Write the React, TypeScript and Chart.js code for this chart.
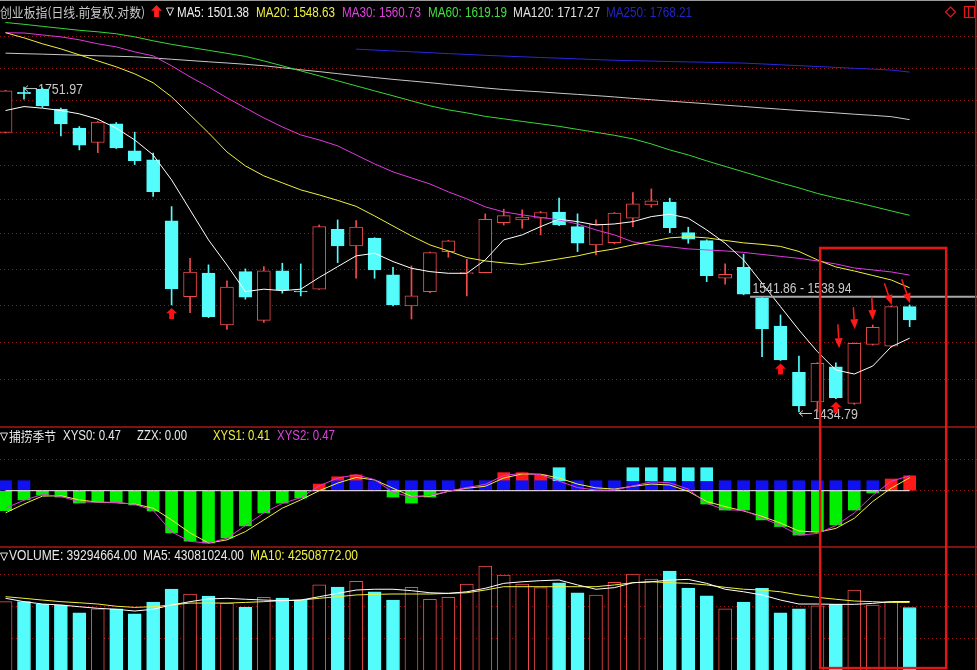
import React, { useEffect, useRef } from 'react';
import { Chart, registerables } from 'chart.js';

Chart.register(...registerables);

// ---------------- data ----------------
const TITLE = '创业板指(日线.前复权.对数)';
const IND_NAME = '捕捞季节';

const opens = [1703.7, 1746.2, 1749.8, 1728.4, 1708.3, 1693.3, 1712.8, 1684.6, 1675.3, 1613.6, 1540.2, 1562.6, 1513.6, 1564.1, 1517.9, 1564.8, 1545.6, 1547.3, 1605.4, 1589.0, 1596.6, 1560.9, 1531.5, 1545.0, 1583.5, 1562.2, 1563.2, 1611.9, 1614.6, 1616.3, 1622.4, 1608.0, 1589.9, 1592.2, 1616.3, 1629.6, 1632.3, 1602.0, 1594.2, 1557.7, 1568.3, 1538.7, 1512.7, 1470.2, 1443.7, 1475.3, 1442.4, 1495.6, 1494.1, 1530.8];
const highs = [1748.5, 1751.97, 1751.0, 1729.4, 1710.0, 1715.5, 1714.2, 1704.1, 1682.2, 1627.9, 1577.0, 1570.6, 1555.2, 1566.7, 1569.0, 1572.2, 1571.5, 1609.6, 1614.6, 1614.0, 1597.0, 1568.3, 1569.6, 1583.0, 1594.5, 1576.0, 1620.6, 1625.3, 1624.6, 1623.0, 1636.3, 1620.6, 1614.6, 1622.0, 1641.9, 1645.7, 1636.3, 1607.4, 1595.0, 1571.5, 1581.0, 1539.5, 1523.0, 1485.0, 1479.0, 1478.9, 1497.0, 1513.6, 1531.5, 1532.4];
const lows = [1703.2, 1739.0, 1730.2, 1700.2, 1685.6, 1682.8, 1687.0, 1670.5, 1638.0, 1532.4, 1525.2, 1520.5, 1509.6, 1537.8, 1516.0, 1543.5, 1540.9, 1547.0, 1572.8, 1557.7, 1557.7, 1531.5, 1519.2, 1544.0, 1578.0, 1540.9, 1563.0, 1609.6, 1606.4, 1599.8, 1609.0, 1583.5, 1580.3, 1591.0, 1608.0, 1627.3, 1602.0, 1591.6, 1554.5, 1552.0, 1542.0, 1484.4, 1481.0, 1434.79, 1435.0, 1446.5, 1441.5, 1495.0, 1493.0, 1512.0];
const closes = [1747.9, 1745.0, 1731.8, 1712.8, 1690.5, 1714.6, 1687.7, 1674.6, 1643.0, 1547.5, 1563.6, 1521.4, 1549.2, 1539.7, 1564.8, 1546.6, 1544.6, 1608.0, 1589.0, 1607.4, 1565.7, 1532.4, 1540.9, 1582.5, 1593.9, 1563.2, 1615.3, 1618.9, 1617.3, 1622.0, 1609.6, 1591.6, 1610.3, 1621.3, 1630.6, 1633.6, 1607.0, 1595.6, 1560.2, 1561.6, 1542.5, 1509.9, 1481.4, 1440.2, 1478.3, 1447.4, 1496.6, 1511.4, 1530.8, 1518.3];

const ma5 = [1726.9, 1731.1, 1729.4, 1726.9, 1723.4, 1717.7, 1708.3, 1696.0, 1680.4, 1654.8, 1624.6, 1594.9, 1570.5, 1545.0, 1547.3, 1545.9, 1547.3, 1558.5, 1568.9, 1579.3, 1581.9, 1573.8, 1567.3, 1564.1, 1562.5, 1562.5, 1575.4, 1594.9, 1599.8, 1608.0, 1615.3, 1612.9, 1609.6, 1610.6, 1612.9, 1617.9, 1620.3, 1616.3, 1604.7, 1591.7, 1575.4, 1553.0, 1530.8, 1509.0, 1489.0, 1472.3, 1468.7, 1475.9, 1493.5, 1501.38];
const ma20 = [1811.5, 1805.8, 1799.2, 1793.6, 1787.0, 1780.4, 1773.9, 1766.3, 1756.6, 1741.5, 1722.3, 1703.4, 1683.5, 1669.1, 1658.9, 1651.8, 1644.7, 1639.6, 1634.1, 1628.1, 1618.6, 1608.6, 1598.8, 1590.0, 1584.1, 1577.6, 1574.4, 1572.5, 1571.0, 1573.5, 1576.4, 1579.3, 1583.2, 1586.1, 1590.0, 1593.4, 1596.9, 1598.1, 1596.9, 1594.4, 1592.0, 1590.5, 1588.5, 1583.6, 1575.4, 1568.6, 1564.7, 1560.4, 1556.1, 1548.63];
const ma30 = [1811.5, 1811.2, 1809.0, 1806.9, 1803.6, 1799.2, 1795.8, 1790.3, 1785.9, 1775.0, 1763.0, 1752.2, 1740.4, 1729.7, 1719.1, 1709.6, 1701.2, 1696.0, 1689.8, 1680.4, 1671.2, 1663.0, 1656.8, 1650.7, 1642.7, 1635.6, 1627.6, 1622.6, 1619.6, 1617.1, 1614.6, 1610.6, 1604.7, 1599.8, 1593.0, 1590.0, 1588.1, 1586.1, 1585.1, 1584.1, 1582.7, 1580.7, 1578.8, 1576.9, 1574.4, 1571.5, 1567.6, 1565.7, 1563.8, 1560.73];
const ma60 = [1822.9, 1820.9, 1818.6, 1816.4, 1814.2, 1812.5, 1810.3, 1806.9, 1802.5, 1798.6, 1795.3, 1792.0, 1788.7, 1785.3, 1780.4, 1775.0, 1769.5, 1764.1, 1758.7, 1753.3, 1747.9, 1742.6, 1737.2, 1731.9, 1727.6, 1724.4, 1720.7, 1718.1, 1715.4, 1712.8, 1710.2, 1707.0, 1703.9, 1700.8, 1697.1, 1691.8, 1685.6, 1680.4, 1674.3, 1668.6, 1663.0, 1657.4, 1651.8, 1646.7, 1641.1, 1636.6, 1632.6, 1628.1, 1623.6, 1619.19];
const ma120 = [1788.9, 1788.3, 1787.8, 1787.2, 1786.6, 1786.0, 1785.5, 1784.9, 1783.6, 1782.2, 1780.8, 1779.4, 1778.1, 1776.7, 1775.1, 1772.9, 1770.7, 1768.7, 1766.5, 1764.3, 1762.3, 1760.3, 1758.5, 1756.7, 1754.7, 1752.9, 1751.0, 1749.3, 1748.0, 1746.8, 1745.4, 1744.1, 1742.8, 1741.4, 1739.8, 1738.4, 1736.9, 1735.5, 1734.1, 1732.6, 1731.2, 1729.7, 1728.3, 1726.9, 1725.7, 1724.4, 1723.0, 1721.8, 1720.4, 1717.27];
const MA250_START = 19;
const ma250 = [1793.3, 1792.3, 1791.3, 1790.4, 1789.4, 1788.4, 1787.5, 1786.5, 1785.7, 1784.9, 1784.1, 1783.4, 1782.6, 1781.8, 1781.1, 1780.6, 1780.2, 1779.7, 1779.3, 1778.9, 1778.4, 1778.0, 1777.1, 1776.1, 1775.2, 1774.3, 1773.3, 1772.3, 1771.4, 1770.4, 1768.21];

const priceGrid = [1463.3, 1497.65, 1532.0, 1566.35, 1600.7, 1635.05, 1669.4, 1703.75, 1738.1, 1772.45, 1806.8];
const buySignals = [9, 42, 45];
const noteArrows = [
  { fromX: 45.11, fromY: 1514.3, toX: 45.18, toY: 1492.1 },
  { fromX: 45.95, fromY: 1530.2, toX: 46.03, toY: 1509.6 },
  { fromX: 46.95, fromY: 1540.2, toX: 47.0, toY: 1518.3 },
  { fromX: 47.63, fromY: 1552.9, toX: 48.03, toY: 1532.4 },
  { fromX: 48.57, fromY: 1556.8, toX: 49.02, toY: 1534.0 },
];
const cursorPrice = 1540.2;
const cursorFromIdx = 40.35;
const cursorLabel = '1541.86 - 1538.94';
const box = { from: 44.15, to: 50.98, topPrice: 1587.0, bottomVol: 1.2e6 };

// indicator panel (捕捞季节)
const xys0 = [-0.63, -0.29, -0.14, -0.2, -0.39, -0.36, -0.36, -0.45, -0.64, -1.33, -1.59, -1.65, -1.49, -1.11, -0.70, -0.39, -0.23, 0.21, 0.44, 0.5, 0.25, -0.2, -0.39, -0.2, 0.1, 0.15, 0.3, 0.57, 0.57, 0.5, 0.4, 0.2, 0.05, 0.02, 0.15, 0.3, 0.3, 0.1, -0.42, -0.61, -0.61, -0.92, -1.13, -1.40, -1.29, -1.08, -0.61, -0.07, 0.37, 0.47];
const xys1 = [-0.7, -0.42, -0.17, -0.16, -0.29, -0.36, -0.38, -0.42, -0.55, -0.92, -1.33, -1.65, -1.55, -1.29, -0.92, -0.55, -0.29, 0.0, 0.24, 0.42, 0.34, 0.08, -0.18, -0.17, -0.02, 0.08, 0.14, 0.4, 0.53, 0.52, 0.4, 0.21, 0.09, 0.05, 0.14, 0.21, 0.18, -0.02, -0.34, -0.5, -0.64, -0.81, -1.02, -1.27, -1.31, -1.19, -0.87, -0.34, 0.08, 0.41];
const xys2 = [-0.55, -0.3, -0.12, -0.18, -0.35, -0.36, -0.37, -0.43, -0.62, -1.3, -1.6, -1.65, -1.5, -1.1, -0.7, -0.4, -0.22, 0.15, 0.4, 0.5, 0.35, -0.05, -0.2, -0.15, -0.02, 0.1, 0.2, 0.48, 0.55, 0.5, 0.3, 0.1, 0.02, 0.02, 0.15, 0.28, 0.25, 0.05, -0.4, -0.6, -0.62, -0.85, -1.1, -1.4, -1.35, -1.1, -0.7, -0.15, 0.3, 0.47];
const zzx = 0;
const blueMarks = [0, 1, 18, 19, 20, 21, 22, 23, 24, 25, 26, 27, 28, 29, 30, 31, 32, 33, 34, 35, 36, 37, 38, 39, 40, 41, 42, 43, 44, 45, 46, 47];
const cyanMarks = [30, 34, 35, 36, 37, 38];
const indGrid = [0, 1];

// volume panel
const vols = [43.0e6, 43.0e6, 41.3e6, 40.7e6, 36.0e6, 38.4e6, 38.4e6, 35.4e6, 42.8e6, 50.9e6, 47.8e6, 46.5e6, 41.9e6, 39.6e6, 45.7e6, 45.3e6, 44.0e6, 53.5e6, 52.2e6, 55.8e6, 49.1e6, 44.0e6, 52.0e6, 44.5e6, 45.7e6, 54.1e6, 65.4e6, 59.7e6, 54.1e6, 51.8e6, 54.9e6, 48.6e6, 47.2e6, 55.1e6, 60.4e6, 57.2e6, 62.3e6, 51.6e6, 46.7e6, 38.4e6, 42.8e6, 51.4e6, 36.0e6, 38.4e6, 40.3e6, 41.3e6, 50.3e6, 40.9e6, 43.0e6, 39294664];
const volMa5 = [45.1e6, 43.0e6, 41.5e6, 40.9e6, 39.8e6, 38.8e6, 38.2e6, 37.1e6, 38.2e6, 40.9e6, 43.0e6, 44.7e6, 45.1e6, 44.5e6, 44.0e6, 43.6e6, 44.0e6, 46.1e6, 48.2e6, 50.3e6, 50.8e6, 50.8e6, 49.9e6, 48.6e6, 48.2e6, 49.2e6, 51.4e6, 54.5e6, 55.5e6, 56.2e6, 56.6e6, 53.5e6, 50.8e6, 51.8e6, 54.9e6, 55.5e6, 56.6e6, 57.0e6, 54.5e6, 50.8e6, 49.2e6, 47.2e6, 44.0e6, 41.5e6, 41.5e6, 41.3e6, 41.3e6, 41.9e6, 43.0e6, 43081024];
const volMa10 = [46.1e6, 45.1e6, 44.0e6, 43.0e6, 42.3e6, 41.5e6, 40.1e6, 39.4e6, 39.8e6, 40.9e6, 42.1e6, 42.1e6, 42.1e6, 42.5e6, 43.0e6, 43.6e6, 44.0e6, 45.1e6, 46.1e6, 47.2e6, 47.6e6, 47.8e6, 47.8e6, 47.8e6, 48.2e6, 48.6e6, 50.3e6, 52.4e6, 52.4e6, 52.4e6, 52.4e6, 52.4e6, 52.4e6, 53.5e6, 54.9e6, 55.5e6, 54.9e6, 54.5e6, 53.5e6, 52.0e6, 50.8e6, 50.3e6, 49.2e6, 47.2e6, 45.7e6, 44.5e6, 43.4e6, 43.0e6, 42.5e6, 42508772];
const volGrid = [20e6, 40e6, 60e6];

// ---------------- layout / style ----------------
const W = 977;
const TOP_H = 426;
const MID_H = 120;
const VOL_H = 124;
const X_MIN = -0.3;
const X_MAX = 52.65;
const TOP_MIN = 1422.5;
const TOP_MAX = 1848.3;
const IND_MIN = -1.744;
const IND_MAX = 2.041;
const VOL_MAX = 78e6;
const MARK_BLUE = 0.315;
const MARK_CYAN = 0.725;

const GRID_RED = '#9a1414';
const SEP_RED = '#a81818';
const BOX_RED = '#e41616';
const CYAN = '#54fcfc';
const CANDLE_RED = '#f04a4a';
const FONT = '"Liberation Sans", Arial, "Noto Sans CJK SC", sans-serif';
const CJK_FONT = '"Noto Sans CJK SC", "Liberation Sans", sans-serif';

const last = (a: number[]) => a[a.length - 1];
const isUp = (i: number) => closes[i] >= opens[i];
const idx = opens.map((_, i) => i);

const xScale = () => ({ type: 'linear', min: X_MIN, max: X_MAX, offset: false, display: false, grid: { display: false } });
const yCommon = (vals: number[]) => ({
  position: 'left',
  bounds: 'data',
  beginAtZero: false,
  ticks: { display: false },
  grid: { color: GRID_RED, drawTicks: false, lineWidth: 1 },
  border: { display: false, dash: [1, 3] },
  afterBuildTicks: (s: any) => { s.ticks = vals.map((v) => ({ value: v })); },
  afterFit: (s: any) => { s.width = 0; },
});
const baseOptions = (scales: any) => ({
  responsive: false,
  animation: false,
  devicePixelRatio: 1,
  events: [],
  layout: { padding: 0 },
  plugins: { legend: { display: false }, tooltip: { enabled: false } },
  scales,
});
const lineDs = (label: string, vals: number[], color: string, start: number, order: number) => ({
  type: 'line',
  label,
  data: vals.map((v, k) => ({ x: k + start, y: v })),
  borderColor: color,
  backgroundColor: color,
  borderWidth: 1,
  pointRadius: 0,
  fill: false,
  tension: 0,
  order,
});

function txt(ctx: any, t: string, x: number, y: number, color: string, maxW?: number, font?: string) {
  ctx.font = font || '14px ' + FONT;
  ctx.fillStyle = color;
  ctx.textAlign = 'left';
  ctx.textBaseline = 'alphabetic';
  if (maxW) ctx.fillText(t, x, y, maxW);
  else ctx.fillText(t, x, y);
}
function tri(ctx: any, x: number, y: number, color: string) {
  ctx.strokeStyle = color;
  ctx.lineWidth = 1;
  ctx.beginPath();
  ctx.moveTo(x + 0.5, y + 0.5);
  ctx.lineTo(x + 7.5, y + 0.5);
  ctx.lineTo(x + 4, y + 8);
  ctx.closePath();
  ctx.stroke();
}
function fatArrowUp(ctx: any, cx: number, top: number, w: number, h: number) {
  ctx.beginPath();
  ctx.moveTo(cx, top);
  ctx.lineTo(cx + w / 2, top + h * 0.48);
  ctx.lineTo(cx + w * 0.22, top + h * 0.48);
  ctx.lineTo(cx + w * 0.22, top + h);
  ctx.lineTo(cx - w * 0.22, top + h);
  ctx.lineTo(cx - w * 0.22, top + h * 0.48);
  ctx.lineTo(cx - w / 2, top + h * 0.48);
  ctx.closePath();
  ctx.fill();
}
function thinArrow(ctx: any, x1: number, y1: number, x2: number, y2: number) {
  const a = Math.atan2(y2 - y1, x2 - x1);
  const hl = 10, hw = 4;
  const bx = x2 - hl * Math.cos(a), by = y2 - hl * Math.sin(a);
  ctx.lineWidth = 1.5;
  ctx.beginPath();
  ctx.moveTo(x1, y1);
  ctx.lineTo(bx, by);
  ctx.stroke();
  ctx.beginPath();
  ctx.moveTo(x2, y2);
  ctx.lineTo(bx + hw * Math.sin(a), by - hw * Math.cos(a));
  ctx.lineTo(bx - hw * Math.sin(a), by + hw * Math.cos(a));
  ctx.closePath();
  ctx.fill();
}
function extremeLabel(ctx: any, px: number, py: number, text: string) {
  ctx.strokeStyle = '#c8c8c8';
  ctx.lineWidth = 1;
  ctx.beginPath();
  ctx.moveTo(px, py + 1.5);
  ctx.lineTo(px + 13, py + 1.5);
  ctx.moveTo(px + 4, py - 1.5);
  ctx.lineTo(px + 0.5, py + 1.5);
  ctx.lineTo(px + 4, py + 4.5);
  ctx.stroke();
  txt(ctx, text, px + 14, py + 7, '#c8c8c8', 45);
}
function rightBorder(ctx: any, h: number) {
  ctx.strokeStyle = SEP_RED;
  ctx.lineWidth = 1.5;
  ctx.beginPath();
  ctx.moveTo(975.75, 0);
  ctx.lineTo(975.75, h);
  ctx.stroke();
}
function topSeparator(ctx: any) {
  ctx.strokeStyle = SEP_RED;
  ctx.lineWidth = 1.5;
  ctx.beginPath();
  ctx.moveTo(0, 1);
  ctx.lineTo(W, 1);
  ctx.stroke();
}
function boxRect(ctx: any, chart: any, yTop: number, yBottom: number) {
  const x = chart.scales.x;
  const x1 = x.getPixelForValue(box.from), x2 = x.getPixelForValue(box.to);
  ctx.strokeStyle = BOX_RED;
  ctx.lineWidth = 2.5;
  ctx.strokeRect(x1, yTop, x2 - x1, yBottom - yTop);
}

const topOverlay = {
  id: 'topOverlay',
  beforeDatasetsDraw(chart: any) {
    const { ctx } = chart;
    const x = chart.scales.x, y = chart.scales.y;
    const hi = highs.indexOf(Math.max(...highs));
    const lo = lows.indexOf(Math.min(...lows));
    ctx.save();
    extremeLabel(ctx, x.getPixelForValue(hi), y.getPixelForValue(highs[hi]), highs[hi].toFixed(2));
    extremeLabel(ctx, x.getPixelForValue(lo), y.getPixelForValue(lows[lo]), lows[lo].toFixed(2));
    ctx.restore();
  },
  afterDraw(chart: any) {
    const { ctx } = chart;
    const x = chart.scales.x, y = chart.scales.y;
    ctx.save();
    // top frame line
    ctx.strokeStyle = '#9a9a9a';
    ctx.lineWidth = 1;
    ctx.beginPath();
    ctx.moveTo(0, 0.5);
    ctx.lineTo(W, 0.5);
    ctx.stroke();
    // header
    txt(ctx, TITLE, 0, 17, '#c8c8c8', 145, '13px ' + CJK_FONT);
    ctx.fillStyle = '#ff1e1e';
    fatArrowUp(ctx, 156.5, 5, 11, 12);
    tri(ctx, 166, 7.5, '#e0e0e0');
    txt(ctx, `MA5: ${last(ma5).toFixed(2)}`, 177, 17, '#f0f0f0', 72);
    txt(ctx, `MA20: ${last(ma20).toFixed(2)}`, 256, 17, '#f0f040', 79);
    txt(ctx, `MA30: ${last(ma30).toFixed(2)}`, 342, 17, '#e040e0', 79);
    txt(ctx, `MA60: ${last(ma60).toFixed(2)}`, 428, 17, '#40e040', 79);
    txt(ctx, `MA120: ${last(ma120).toFixed(2)}`, 513, 17, '#e0e0e0', 87);
    txt(ctx, `MA250: ${last(ma250).toFixed(2)}`, 606, 17, '#2424c8', 86);
    // top-right icons
    ctx.strokeStyle = '#e01818';
    ctx.lineWidth = 1.2;
    ctx.beginPath();
    ctx.moveTo(950.5, 7);
    ctx.lineTo(955.5, 12);
    ctx.lineTo(950.5, 17);
    ctx.lineTo(945.5, 12);
    ctx.closePath();
    ctx.stroke();
    ctx.strokeRect(964.5, 6.5, 10, 11);
    ctx.beginPath();
    ctx.moveTo(968.5, 6.5);
    ctx.lineTo(968.5, 17.5);
    ctx.stroke();
    // buy signal arrows
    ctx.fillStyle = '#ff1010';
    buySignals.forEach((i) => {
      fatArrowUp(ctx, x.getPixelForValue(i), y.getPixelForValue(lows[i]) + 3, 11, 11);
    });
    // cursor line + label
    const cy = y.getPixelForValue(cursorPrice);
    const cx = x.getPixelForValue(cursorFromIdx);
    ctx.strokeStyle = '#a8a8a8';
    ctx.lineWidth = 2;
    ctx.beginPath();
    ctx.moveTo(cx, cy);
    ctx.lineTo(W, cy);
    ctx.stroke();
    txt(ctx, cursorLabel, cx + 2.5, cy - 4, '#c8c8c8', 99);
    // annotation arrows
    ctx.strokeStyle = '#ff1a1a';
    ctx.fillStyle = '#ff1a1a';
    noteArrows.forEach((a) => {
      thinArrow(ctx, x.getPixelForValue(a.fromX), y.getPixelForValue(a.fromY), x.getPixelForValue(a.toX), y.getPixelForValue(a.toY));
    });
    // highlight box
    boxRect(ctx, chart, y.getPixelForValue(box.topPrice), TOP_H + 10);
    rightBorder(ctx, TOP_H);
    ctx.restore();
  },
};

const midOverlay = {
  id: 'midOverlay',
  afterDraw(chart: any) {
    const { ctx } = chart;
    ctx.save();
    topSeparator(ctx);
    tri(ctx, 0, 6.5, '#e0e0e0');
    txt(ctx, IND_NAME, 9, 15, '#e8e8e8', 47, '13px ' + CJK_FONT);
    txt(ctx, `XYS0: ${last(xys0).toFixed(2)}`, 63, 14, '#e8e8e8', 58);
    txt(ctx, `ZZX: ${zzx.toFixed(2)}`, 137, 14, '#e8e8e8', 50);
    txt(ctx, `XYS1: ${last(xys1).toFixed(2)}`, 213, 14, '#f0f040', 57);
    txt(ctx, `XYS2: ${last(xys2).toFixed(2)}`, 277, 14, '#e040e0', 58);
    boxRect(ctx, chart, -10, MID_H + 10);
    rightBorder(ctx, MID_H);
    ctx.restore();
  },
};

const volOverlay = {
  id: 'volOverlay',
  afterDraw(chart: any) {
    const { ctx } = chart;
    const y = chart.scales.y;
    ctx.save();
    topSeparator(ctx);
    tri(ctx, 0, 6.5, '#e0e0e0');
    txt(ctx, `VOLUME: ${last(vols).toFixed(2)}`, 9, 14, '#e8e8e8', 128);
    txt(ctx, `MA5: ${last(volMa5).toFixed(2)}`, 143, 14, '#e8e8e8', 101);
    txt(ctx, `MA10: ${last(volMa10).toFixed(2)}`, 250, 14, '#f0f040', 108);
    boxRect(ctx, chart, -10, y.getPixelForValue(box.bottomVol));
    rightBorder(ctx, VOL_H);
    ctx.restore();
  },
};

function topConfig(): any {
  return {
    type: 'bar',
    data: {
      datasets: [
        {
          type: 'bar', label: 'wick',
          data: idx.map((i) => ({ x: i, y: [lows[i], highs[i]] })),
          backgroundColor: idx.map((i) => (isUp(i) ? CANDLE_RED : CYAN)),
          borderWidth: 0, barThickness: 1, grouped: false, order: 11,
        },
        {
          type: 'bar', label: 'body',
          data: idx.map((i) => ({ x: i, y: [opens[i], closes[i]] })),
          backgroundColor: idx.map((i) => (isUp(i) ? '#000000' : CYAN)),
          borderColor: idx.map((i) => (isUp(i) ? CANDLE_RED : CYAN)),
          borderWidth: 1, borderSkipped: false, barThickness: 13, grouped: false, order: 10,
        },
        lineDs('MA250', ma250, '#2828e0', MA250_START, 5),
        lineDs('MA120', ma120, '#c8c8c8', 0, 4),
        lineDs('MA60', ma60, '#38d838', 0, 3),
        lineDs('MA30', ma30, '#e038e0', 0, 2),
        lineDs('MA20', ma20, '#f0f03c', 0, 1),
        lineDs('MA5', ma5, '#ffffff', 0, 0),
      ],
    },
    options: baseOptions({
      x: xScale(),
      y: { type: 'logarithmic', min: TOP_MIN, max: TOP_MAX, ...yCommon(priceGrid) },
    }),
    plugins: [topOverlay],
  };
}

function midConfig(): any {
  return {
    type: 'bar',
    data: {
      datasets: [
        {
          type: 'bar', label: 'XYS0',
          data: idx.map((i) => ({ x: i, y: [0, xys0[i]] })),
          backgroundColor: idx.map((i) => (xys0[i] >= 0 ? '#ff1a1a' : '#00f000')),
          borderWidth: 0, barThickness: 12, grouped: false, order: 12,
        },
        {
          type: 'bar', label: 'blue',
          data: blueMarks.map((i) => ({ x: i, y: [0, MARK_BLUE] })),
          backgroundColor: '#1010f0',
          borderWidth: 0, barThickness: 12, grouped: false, order: 11,
        },
        {
          type: 'bar', label: 'cyan',
          data: cyanMarks.map((i) => ({ x: i, y: [MARK_BLUE, MARK_CYAN] })),
          backgroundColor: '#40f8f8',
          borderWidth: 0, barThickness: 12, grouped: false, order: 10,
        },
        lineDs('ZZX', idx.map(() => zzx), '#ffffff', 0, 2),
        lineDs('XYS1', xys1, '#f0f03c', 0, 1),
        lineDs('XYS2', xys2, '#e038e0', 0, 0),
      ],
    },
    options: baseOptions({
      x: xScale(),
      y: { type: 'linear', min: IND_MIN, max: IND_MAX, ...yCommon(indGrid) },
    }),
    plugins: [midOverlay],
  };
}

function volConfig(): any {
  return {
    type: 'bar',
    data: {
      datasets: [
        {
          type: 'bar', label: 'VOLUME',
          data: idx.map((i) => ({ x: i, y: vols[i] })),
          backgroundColor: idx.map((i) => (isUp(i) ? '#000000' : CYAN)),
          borderColor: idx.map((i) => (isUp(i) ? CANDLE_RED : CYAN)),
          borderWidth: 1, barThickness: 13, grouped: false, order: 10,
        },
        lineDs('MA10', volMa10, '#f0f03c', 0, 1),
        lineDs('MA5', volMa5, '#ffffff', 0, 0),
      ],
    },
    options: baseOptions({
      x: xScale(),
      y: { type: 'linear', min: 0, max: VOL_MAX, ...yCommon(volGrid) },
    }),
    plugins: [volOverlay],
  };
}

export default function App() {
  const topRef = useRef<HTMLCanvasElement>(null);
  const midRef = useRef<HTMLCanvasElement>(null);
  const volRef = useRef<HTMLCanvasElement>(null);

  useEffect(() => {
    const charts = [
      new Chart(topRef.current as HTMLCanvasElement, topConfig()),
      new Chart(midRef.current as HTMLCanvasElement, midConfig()),
      new Chart(volRef.current as HTMLCanvasElement, volConfig()),
    ];
    return () => charts.forEach((c) => c.destroy());
  }, []);

  const cv = (top: number, h: number): any => ({ position: 'absolute', left: 0, top, width: W, height: h, display: 'block' });
  return (
    <div style={{ position: 'fixed', left: 0, top: 0, width: W, height: 670, background: '#000', overflow: 'hidden' }}>
      <canvas ref={topRef} width={W} height={TOP_H} style={cv(0, TOP_H)} />
      <canvas ref={midRef} width={W} height={MID_H} style={cv(TOP_H, MID_H)} />
      <canvas ref={volRef} width={W} height={VOL_H} style={cv(TOP_H + MID_H, VOL_H)} />
    </div>
  );
}
